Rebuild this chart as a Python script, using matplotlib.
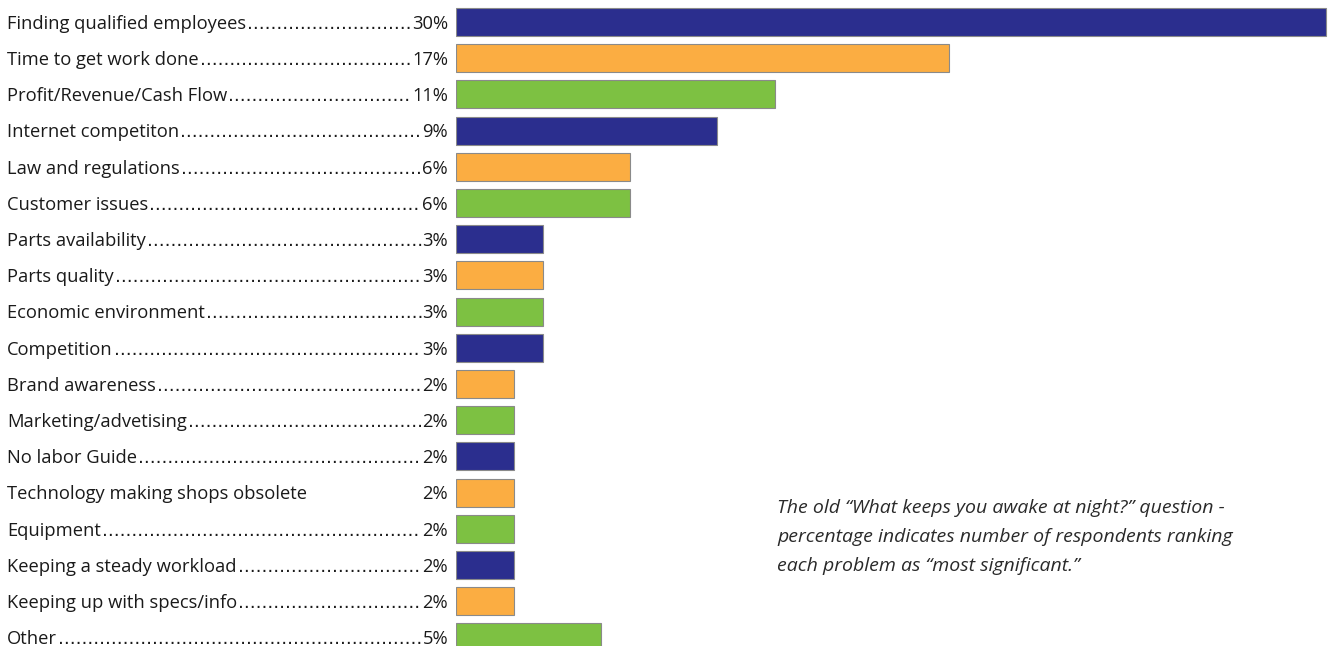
import matplotlib
matplotlib.use("Agg")
import matplotlib.pyplot as plt
import matplotlib.transforms as mtransforms

plt.rcParams['font.family'] = ['Open Sans', 'DejaVu Sans']

# data
labels = ["Finding qualified employees", "Time to get work done", "Profit/Revenue/Cash Flow",
          "Internet competiton", "Law and regulations", "Customer issues", "Parts availability",
          "Parts quality", "Economic environment", "Competition", "Brand awareness",
          "Marketing/advetising", "No labor Guide", "Technology making shops obsolete",
          "Equipment", "Keeping a steady workload", "Keeping up with specs/info", "Other"]
values = [30, 17, 11, 9, 6, 6, 3, 3, 3, 3, 2, 2, 2, 2, 2, 2, 2, 5]
no_dots = ["Technology making shops obsolete"]

navy, orange, green = "#2b2e8e", "#fbad42", "#7dc142"
colors = [navy, orange, green, navy, orange, green, navy, orange, green, navy,
          orange, green, navy, orange, green, navy, orange, green]

W, H = 1331, 646
fig = plt.figure(figsize=(W / 100, H / 100), dpi=100)
ax = fig.add_axes([456 / W, 0, 1 - 456 / W, 1])

n = len(values)
ys = list(range(n))
ax.barh(ys, values, height=0.77, color=colors, edgecolor="#8a8a8a", linewidth=0.8, align="center")
ax.set_xlim(0, 30 * 875 / 870)
step = 36.2
ax.set_ylim((H - 22) / step, -22 / step)
ax.axis("off")

tr = mtransforms.blended_transform_factory(fig.transFigure, ax.transData)
tr = mtransforms.offset_copy(tr, fig=fig, y=-6.8, units="dots")
fs = 13.2
txtcol = "#1a1a1a"
renderer = fig.canvas.get_renderer()
for y, lab, v in zip(ys, labels, values):
    pct = ax.text(448 / W, y, f"{v}%", transform=tr, ha="right", va="baseline",
                  fontsize=fs, color=txtcol)
    t = ax.text(7 / W, y, lab, transform=tr, ha="left", va="baseline",
                fontsize=fs, color=txtcol)
    if lab in no_dots:
        continue
    # dot leaders between label and percentage
    x0 = t.get_window_extent(renderer).x1 + 1
    x1 = pct.get_window_extent(renderer).x0 + 1
    d = ax.text(x0 / W, y, ".", transform=tr, ha="left", va="baseline",
                fontsize=fs, color=txtcol, family="DejaVu Sans")
    s = "."
    while True:
        d.set_text(s + ".")
        if d.get_window_extent(renderer).x1 > x1:
            d.set_text(s)
            break
        s = s + "."

note = ("The old \u201cWhat keeps you awake at night?\u201d question -\n"
        "percentage indicates number of respondents ranking\n"
        "each problem as \u201cmost significant.\u201d")
fig.text(777 / W, 1 - 499 / H, note, ha="left", va="top", fontsize=14,
         style="italic", color="#2a2a2a", linespacing=1.78)

fig.savefig("out.png", dpi=100)
